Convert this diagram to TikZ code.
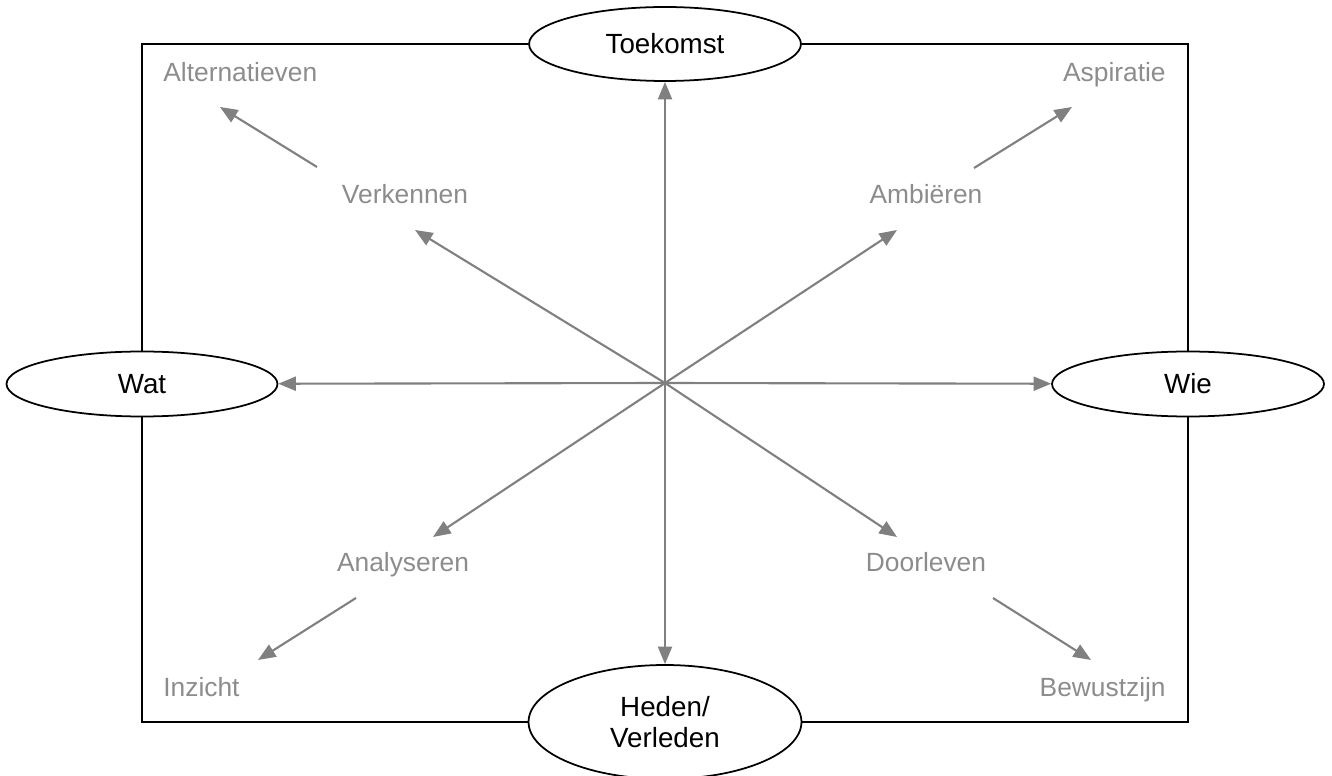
\documentclass[tikz,border=0pt]{standalone}
\usepackage{fontspec}
\setmainfont{Liberation Sans}
\usetikzlibrary{shapes.geometric,arrows.meta,positioning}
\definecolor{axisgray}{RGB}{128,128,128}
\definecolor{textgray}{RGB}{140,140,140}

\begin{document}
\begin{tikzpicture}[x=0.02cm, y=-0.02cm, font=\fontsize{15}{17}\selectfont,
    pole/.style={draw, ellipse, fill=white, line width=1pt, inner sep=0pt, align=center,
      font=\fontsize{15.8}{17.5}\selectfont},
    lbl/.style={text=textgray, inner sep=0pt},
    axis/.style={draw=axisgray, line width=1.2pt, -{Triangle[length=10pt,width=8pt]}}]
    \useasboundingbox (0,0) rectangle (1332,776);

    % Poles
    \node [pole, minimum width=5.44cm, minimum height=1.48cm] (toek) at (665,44) {Toekomst};
    \node [pole, minimum width=5.42cm, minimum height=1.3cm] (wat) at (142,384) {Wat};
    \node [pole, minimum width=5.44cm, minimum height=1.3cm] (wie) at (1188,384) {Wie};
    \node [pole, minimum width=5.46cm, minimum height=2.28cm] (hed) at (665,722) {Heden/\\Verleden};

    % Frame
    \draw [line width=1.2pt] (toek) -| (wie);
    \draw [line width=1.2pt] (wie) |- (hed);
    \draw [line width=1.2pt] (hed) -| (wat);
    \draw [line width=1.2pt] (wat) |- (toek);

    % Labels
    \node [lbl, anchor=base] (verk) at (405,204) {Verkennen};
    \node [lbl, anchor=base] (ambi) at (926,204) {Ambiëren};
    \node [lbl, anchor=base] (anal) at (403,572) {Analyseren};
    \node [lbl, anchor=base] (door) at (926,572) {Doorleven};
    \node [lbl, anchor=base west] (alt) at (163,82) {Alternatieven};
    \node [lbl, anchor=base east] (asp) at (1166,82) {Aspiratie};
    \node [lbl, anchor=base west] (inz) at (163,696) {Inzicht};
    \node [lbl, anchor=base east] (bew) at (1166,696) {Bewustzijn};

    % Arrow points
    \coordinate (c) at (665,383);
    \coordinate (verkTip) at (415,230);
    \coordinate (ambiTip) at (897,230);
    \coordinate (analTip) at (433,537);
    \coordinate (doorTip) at (897,537);
    \coordinate (altFrom) at (317,167);
    \coordinate (altTip) at (220,107);
    \coordinate (aspFrom) at (974,168);
    \coordinate (aspTip) at (1072,107);
    \coordinate (inzFrom) at (356,598);
    \coordinate (inzTip) at (258,660);
    \coordinate (bewFrom) at (993,598);
    \coordinate (bewTip) at (1091,660);

    % Axes
    \draw [axis] (c) -- (toek);
    \draw [axis] (c) -- (hed);
    \draw [axis] (c) -- (wat);
    \draw [axis] (c) -- (wie);
    \draw [axis] (c) -- (verkTip);
    \draw [axis] (c) -- (ambiTip);
    \draw [axis] (c) -- (analTip);
    \draw [axis] (c) -- (doorTip);

    % Outcomes
    \draw [axis] (altFrom) -- (altTip);
    \draw [axis] (aspFrom) -- (aspTip);
    \draw [axis] (inzFrom) -- (inzTip);
    \draw [axis] (bewFrom) -- (bewTip);
\end{tikzpicture}
\end{document}
